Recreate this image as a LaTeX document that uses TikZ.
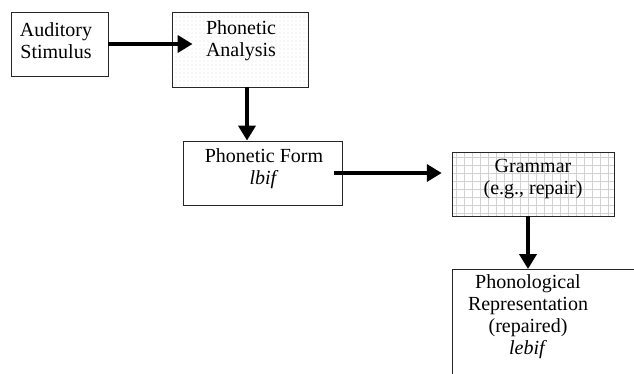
\documentclass[tikz,border=0pt]{standalone}
\usepackage{fontspec}
\setmainfont{Liberation Serif}
\usetikzlibrary{arrows.meta,patterns,patterns.meta}
\tikzdeclarepattern{
  name=sparsedots,
  type=uncolored,
  bottom left={(-.5pt,-.5pt)},
  top right={(3.5pt,3.5pt)},
  tile size={(4pt,4pt)},
  code={\fill (0pt,0pt) circle (0.45pt);}
}
\begin{document}
\begin{tikzpicture}[x=1pt,y=-1pt,
  box/.style={draw=black!85, line width=0.9pt, inner sep=0pt},
  txt/.style={align=center, inner sep=0pt, font=\fontsize{20}{22}\selectfont},
  dotfill/.style={preaction={fill=white}, pattern=sparsedots, pattern color=black!35},
  gridfill/.style={preaction={fill=white},
    preaction={pattern={Lines[angle=0,distance=8pt,line width=0.5pt]}, pattern color=black!18},
    pattern={Lines[angle=90,distance=8pt,line width=0.5pt]}, pattern color=black!18},
  flow/.style={line width=4pt, -{Triangle[length=15pt,width=17pt]}}]
\useasboundingbox (0,0) rectangle (634,373);
\clip (0,0) rectangle (634,373);
\fill[white] (0,0) rectangle (634,373);
% boxes
\node[box, minimum width=97pt, minimum height=64pt] (A) at (59.5,44) {};
\node[box, dotfill, minimum width=136pt, minimum height=75pt] (B) at (240,49.5) {};
\node[box, minimum width=159pt, minimum height=64pt] (C) at (262.5,173) {};
\node[box, gridfill, minimum width=162pt, minimum height=64pt] (D) at (533,184) {};
\node[box, anchor=north west, minimum width=220pt, minimum height=130pt] (E) at (452,269) {};
% texts
\node[txt] (At) at ([xshift=-3.5pt,yshift=3.5pt]A.center) {Auditory\\Stimulus};
\node[txt] (Bt) at ([xshift=1pt,yshift=9pt]B.center) {Phonetic\\Analysis};
\node[txt] (Ct) at ([xshift=1.5pt,yshift=4.5pt]C.center) {Phonetic Form\\\textit{lbif}};
\node[txt] (Dt) at ([yshift=5pt]D.center) {Grammar\\(e.g., repair)};
\node[txt] (Et) at (528,317) {Phonological\\Representation\\(repaired)\\\textit{lebif}};
% connectors
\draw[flow] (A.east) -- ([xshift=21pt]A.east -| B.west);
\draw[flow] ([xshift=7pt]B.south) -- ([xshift=7pt]B.south |- C.north);
\draw[flow] ([xshift=-8pt]C.east) -- ([xshift=-10pt]C.east -| D.west);
\draw[flow] ([xshift=-5pt]D.south) -- ([xshift=-5pt]D.south |- E.north);
\end{tikzpicture}
\end{document}
